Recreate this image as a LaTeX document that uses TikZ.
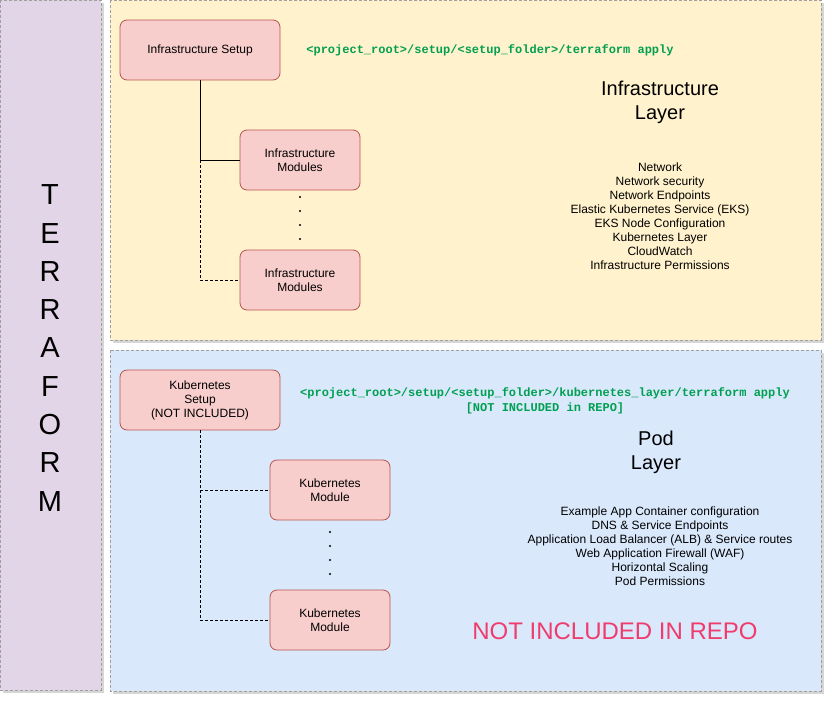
\documentclass[tikz,border=0pt]{standalone}
\usepackage{fontspec}
\setmainfont{Liberation Sans}
\newfontfamily\codefont{Liberation Mono}
\definecolor{panelpurple}{HTML}{E1D5E7}
\definecolor{panelyellow}{HTML}{FFF2CC}
\definecolor{panelblue}{HTML}{DAE8FC}
\definecolor{boxfill}{HTML}{F8CECC}
\definecolor{boxline}{HTML}{B85450}
\definecolor{cmdgreen}{HTML}{00A050}
\definecolor{warnpink}{HTML}{F03C6C}
\begin{document}
\begin{tikzpicture}[x=1pt,y=-1pt,
  panel/.style={draw=gray!75, densely dashed, line width=0.6pt},
  shade/.style={fill=black!16},
  modbox/.style={draw=boxline, fill=boxfill, rounded corners=7pt, line width=0.8pt,
    minimum width=160pt, minimum height=60pt, align=center, font=\fontsize{12}{14}\selectfont},
  smallbox/.style={modbox, minimum width=120pt},
  cmd/.style={text=cmdgreen, font=\codefont\bfseries\fontsize{12}{15}\selectfont, align=center},
  title/.style={font=\fontsize{20}{24}\selectfont, align=center},
  items/.style={font=\fontsize{12}{14}\selectfont, align=center},
  link/.style={line width=0.7pt},
  dlink/.style={line width=0.7pt, dash pattern=on 3pt off 2pt},
  dotmark/.style={circle, fill=black, inner sep=0pt, minimum size=2.2pt}
]
\useasboundingbox (0,0) rectangle (832,702);
\fill[white] (0,0) rectangle (832,702);

% panels with soft shadows
\fill[shade] (3,3) rectangle (104,693);
\fill[panelpurple] (0,0) rectangle (101,690);
\draw[panel] (0,0) rectangle (101,690);

\fill[shade] (113,3) rectangle (824,343);
\fill[panelyellow] (110,0) rectangle (821,340);
\draw[panel] (110,0) rectangle (821,340);

\fill[shade] (113,353) rectangle (824,694);
\fill[panelblue] (110,350) rectangle (821,691);
\draw[panel] (110,350) rectangle (821,691);

% vertical label
\node[font=\fontsize{29}{38.3}\selectfont, align=center] (tf) at (50,348) {T\\E\\R\\R\\A\\F\\O\\R\\M};

% infrastructure layer
\node[modbox] (infsetup) at (200,50) {Infrastructure Setup};
\node[smallbox] (infmod1) at (300,160) {Infrastructure\\Modules};
\node[smallbox] (infmod2) at (300,280) {Infrastructure\\Modules};
\coordinate (infbranch) at (200,160);
\draw[dlink] (infbranch) |- (infmod2.west);
\draw[link] (infsetup.south) |- (infmod1.west);
\foreach \yy [count=\i] in {197,211,225,239} \node[dotmark] (infdot\i) at (300,\yy) {};

\node[cmd] (infcmd) at (490,50) {<project\_root>/setup/<setup\_folder>/terraform apply};
\node[title] (inftitle) at (660,102) {Infrastructure\\Layer};
\node[items] (inflist) at (660,216.5) {Network\\Network security\\Network Endpoints\\Elastic Kubernetes Service (EKS)\\EKS Node Configuration\\Kubernetes Layer\\CloudWatch\\Infrastructure Permissions};

% pod layer
\node[modbox] (k8ssetup) at (200,400) {Kubernetes\\Setup\\(NOT INCLUDED)};
\node[smallbox] (k8smod1) at (330,490) {Kubernetes\\Module};
\node[smallbox] (k8smod2) at (330,620) {Kubernetes\\Module};
\coordinate (k8sbranch) at (200,490);
\draw[dlink] (k8ssetup.south) |- (k8smod1.west);
\draw[dlink] (k8sbranch) |- (k8smod2.west);
\foreach \yy [count=\i] in {532,546,560,574} \node[dotmark] (k8sdot\i) at (330,\yy) {};

\node[cmd] (k8scmd) at (545,401) {<project\_root>/setup/<setup\_folder>/kubernetes\_layer/terraform apply\\\relax [NOT INCLUDED in REPO]};
\node[title] (podtitle) at (656,452) {Pod\\Layer};
\node[items] (podlist) at (660,546.5) {Example App Container configuration\\DNS \& Service Endpoints\\Application Load Balancer (ALB) \& Service routes\\Web Application Firewall (WAF)\\Horizontal Scaling\\Pod Permissions};
\node[font=\fontsize{24}{28}\selectfont, text=warnpink] (notincl) at (615,631) {NOT INCLUDED IN REPO};
\end{tikzpicture}
\end{document}
